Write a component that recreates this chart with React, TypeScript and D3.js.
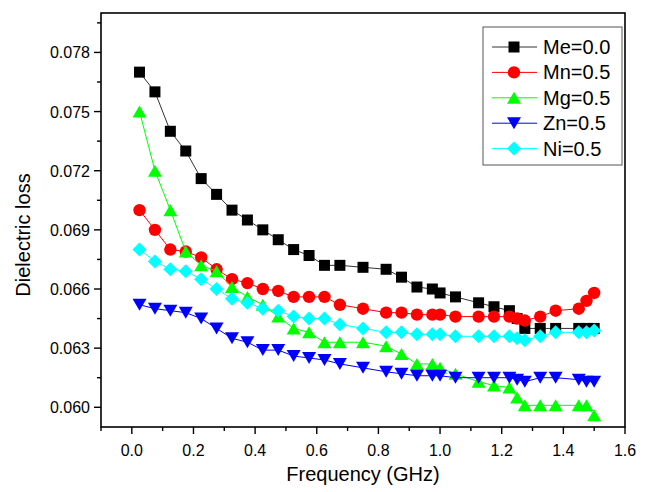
import React from 'react';
import * as d3 from 'd3';

// frequency (GHz) shared by all series
const freq = [0.025, 0.075, 0.125, 0.175, 0.225, 0.275, 0.325, 0.375, 0.425, 0.475, 0.525, 0.575, 0.625, 0.675,
  0.75, 0.825, 0.875, 0.925, 0.975, 1.0, 1.05, 1.125, 1.175, 1.225, 1.25, 1.275, 1.325, 1.375, 1.45, 1.475, 1.5];

const me00 = [0.0770, 0.0760, 0.0740, 0.0730, 0.0716, 0.0708, 0.0700, 0.0695, 0.0690, 0.0685, 0.0680, 0.0677, 0.0672, 0.0672,
  0.0671, 0.0670, 0.0666, 0.0661, 0.0660, 0.0658, 0.0656, 0.0653, 0.0651, 0.0649, 0.0645, 0.0640, 0.0640, 0.0640, 0.0640, 0.0640, 0.0640];
const mn05 = [0.0700, 0.0690, 0.0680, 0.0679, 0.0676, 0.0670, 0.0665, 0.0663, 0.0660, 0.0659, 0.0656, 0.0656, 0.0656, 0.0652,
  0.0650, 0.0648, 0.0648, 0.0647, 0.0647, 0.0647, 0.0646, 0.0646, 0.0646, 0.0646, 0.0645, 0.0644, 0.0646, 0.0649, 0.0650, 0.0654, 0.0658];
const mg05 = [0.0750, 0.0720, 0.0700, 0.0679, 0.0672, 0.0669, 0.0661, 0.0656, 0.0652, 0.0646, 0.0640, 0.0638, 0.0633, 0.0633,
  0.0633, 0.0631, 0.0627, 0.0622, 0.0622, 0.0620, 0.0617, 0.0613, 0.0611, 0.0610, 0.0605, 0.0601, 0.0601, 0.0601, 0.0601, 0.0601, 0.0596];
const zn05 = [0.0652, 0.0650, 0.0649, 0.0648, 0.0645, 0.0640, 0.0635, 0.0633, 0.0629, 0.0629, 0.0626, 0.0625, 0.0624, 0.0622,
  0.0620, 0.0618, 0.0617, 0.0616, 0.0616, 0.0616, 0.0615, 0.0615, 0.0615, 0.0615, 0.0614, 0.0613, 0.0615, 0.0615, 0.0614, 0.0613, 0.0613];
const ni05 = [0.0680, 0.0674, 0.0670, 0.0669, 0.0665, 0.0660, 0.0655, 0.0653, 0.0650, 0.0649, 0.0646, 0.0645, 0.0645, 0.0642,
  0.0640, 0.0638, 0.0638, 0.0637, 0.0637, 0.0637, 0.0636, 0.0636, 0.0636, 0.0636, 0.0635, 0.0634, 0.0636, 0.0638, 0.0638, 0.0638, 0.0639];

const seriesNames = ['Me=0.0', 'Mn=0.5', 'Mg=0.5', 'Zn=0.5', 'Ni=0.5'];
const seriesValues = [me00, mn05, mg05, zn05, ni05];

const xTicks = [0.0, 0.2, 0.4, 0.6, 0.8, 1.0, 1.2, 1.4, 1.6];
const yTicks = [0.060, 0.063, 0.066, 0.069, 0.072, 0.075, 0.078];

const styles = [
  { color: '#000000', line: '#333333', shape: 'square' },
  { color: '#ff0000', line: '#ff0000', shape: 'circle' },
  { color: '#00ff00', line: '#00ff00', shape: 'up' },
  { color: '#0000ff', line: '#0000ff', shape: 'down' },
  { color: '#00ffff', line: '#00ffff', shape: 'diamond' },
];

const font = 'Arial, "Liberation Sans", sans-serif';

// marker path centred at 0,0
function markerPath(shape: string) {
  switch (shape) {
    case 'square': return 'M-5.5,-5.5H5.5V5.5H-5.5Z';
    case 'circle': return 'M-6.2,0A6.2,6.2 0 1,0 6.2,0A6.2,6.2 0 1,0 -6.2,0Z';
    case 'up': return 'M0,-6L7,6H-7Z';
    case 'down': return 'M0,6L7,-6H-7Z';
    default: return 'M0,-7L7,0L0,7L-7,0Z';
  }
}

export default function App() {
  const width = 649, height = 492;
  const left = 101, right = 625, top = 13, bottom = 427;

  const x = d3.scaleLinear().domain([-0.1, 1.6]).range([left, right]);
  const y = d3.scaleLinear().domain([0.059, 0.080]).range([bottom, top]);

  const xMinor = d3.range(-0.1, 1.65, 0.1).filter(v => !xTicks.some(t => Math.abs(t - v) < 1e-6));
  const yMinor = d3.range(0.0585, 0.0801, 0.0015).filter(v => v >= 0.059 && !yTicks.some(t => Math.abs(t - v) < 1e-7));

  const line = d3.line<number>().x((_, i) => x(freq[i])).y(d => y(d));

  const legX = 483, legY = 27, legRow = 25.4;

  return (
    <svg width={width} height={height} style={{ position: 'absolute', left: 0, top: 0, background: '#fff' }}
      fontFamily={font}>
      <rect x={0} y={0} width={width} height={height} fill="#fff" />

      {/* series */}
      {seriesValues.map((vals, si) => (
        <g key={si}>
          <path d={line(vals) || ''} fill="none" stroke={styles[si].line} strokeWidth={1} />
          {vals.map((v, i) => (
            <path key={i} d={markerPath(styles[si].shape)} transform={`translate(${x(freq[i])},${y(v)})`}
              fill={styles[si].color} />
          ))}
        </g>
      ))}

      {/* frame */}
      <rect x={left} y={top} width={right - left} height={bottom - top} fill="none" stroke="#000" strokeWidth={1.6} />

      {/* x axis */}
      {xTicks.map(t => (
        <g key={t}>
          <line x1={x(t)} x2={x(t)} y1={bottom} y2={bottom + 7} stroke="#000" strokeWidth={1.4} />
          <text x={x(t)} y={bottom + 29} textAnchor="middle" fontSize={16}>{t.toFixed(1)}</text>
        </g>
      ))}
      {xMinor.map(t => (
        <line key={t} x1={x(t)} x2={x(t)} y1={bottom} y2={bottom + 4} stroke="#000" strokeWidth={1.4} />
      ))}

      {/* y axis */}
      {yTicks.map(t => (
        <g key={t}>
          <line x1={left - 7} x2={left} y1={y(t)} y2={y(t)} stroke="#000" strokeWidth={1.4} />
          <text x={left - 11} y={y(t) + 6} textAnchor="end" fontSize={16}>{t.toFixed(3)}</text>
        </g>
      ))}
      {yMinor.map(t => (
        <line key={t} x1={left - 4} x2={left} y1={y(t)} y2={y(t)} stroke="#000" strokeWidth={1.4} />
      ))}

      <text x={(left + right) / 2} y={481} textAnchor="middle" fontSize={20}>Frequency (GHz)</text>
      <text transform={`translate(30,${235}) rotate(-90)`} textAnchor="middle" fontSize={20}>Dielectric loss</text>

      {/* legend */}
      <rect x={legX} y={legY} width={139} height={138} fill="#fff" stroke="#555" strokeWidth={1} />
      {seriesNames.map((name, i) => {
        const cy = legY + 20 + i * legRow;
        return (
          <g key={name}>
            <line x1={492} x2={537} y1={cy} y2={cy} stroke={styles[i].line} strokeWidth={1} />
            <path d={markerPath(styles[i].shape)} transform={`translate(514,${cy})`} fill={styles[i].color} />
            <text x={543} y={cy + 7} fontSize={20}>{name}</text>
          </g>
        );
      })}
    </svg>
  );
}
